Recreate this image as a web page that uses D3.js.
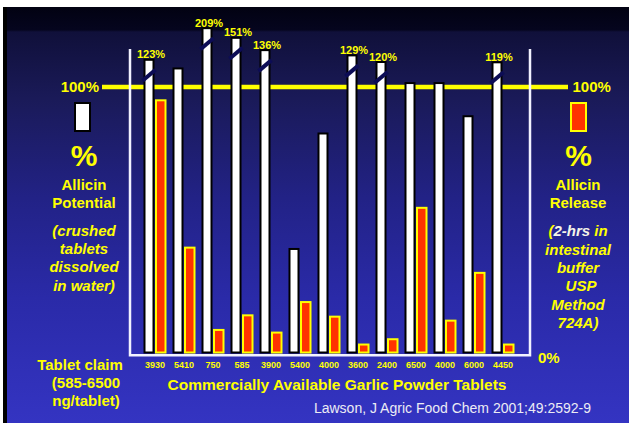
<!DOCTYPE html>
<html><head><meta charset="utf-8">
<script src="https://cdn.jsdelivr.net/npm/d3@7"></script>
<style>html,body{margin:0;padding:0;background:#fff;overflow:hidden}svg{display:block}</style>
</head><body>
<script>
// ---- data ----
const claims = ["3930","5410","750","585","3900","5400","4000","3600","2400","6500","4000","6000","4450"];
const potential = [123, 107, 209, 151, 136, 39, 82.5, 129, 120, 101.5, 101.5, 89, 119];
const release = [95, 39.5, 8.5, 14, 7.5, 19, 13.5, 3, 5, 54.5, 12, 30, 3];
const breakThreshold = 115;
const leftLines = ["Allicin", "Potential"];
const leftNote = ["(crushed", "tablets", "dissolved", "in water)"];
const rightLines = ["Allicin", "Release"];
const rightNote = ["intestinal", "buffer", "USP", "Method", "724A)"];
const claimLines = ["(585-6500", "ng/tablet)"];

const W = 629, H = 423;
const YEL = "#ffff00", RED = "#ff3300", FONT = "Arial, 'Liberation Sans', sans-serif";

const svg = d3.select("body").append("svg").attr("width", W).attr("height", H)
  .style("font-family", FONT);

// background
const defs = svg.append("defs");
const g = defs.append("linearGradient").attr("id", "bg").attr("x1", 0).attr("y1", 0).attr("x2", 0).attr("y2", 1);
[[0, "#020212"], [0.055, "#05051e"], [0.06, "#10103a"], [0.22, "#1a1a58"], [0.46, "#222286"], [0.7, "#2a2aa8"], [1, "#3434c2"]]
  .forEach(([o, c]) => g.append("stop").attr("offset", o).attr("stop-color", c));
svg.append("rect").attr("x", 3).attr("y", 7).attr("width", W - 3).attr("height", H - 7).attr("fill", "url(#bg)");
svg.append("rect").attr("x", 3).attr("y", 7).attr("width", 4).attr("height", H - 7).attr("fill", "#000");

// scales
const x = d3.scaleBand().domain(d3.range(claims.length)).range([140.5, 517.5]);
const y = d3.scaleLinear().domain([0, 108, 120, 135, 150, 210]).range([352.5, 65.8, 62, 51, 38, 28]);
const cx = i => x(i) + x.bandwidth() / 2;

// 100% reference line
svg.append("line").attr("x1", 102).attr("x2", 568).attr("y1", y(100)).attr("y2", y(100))
  .attr("stroke", YEL).attr("stroke-width", 4.5);

// frame
const frame = d3.path();
frame.moveTo(130, 49); frame.lineTo(130, 355.3); frame.lineTo(530, 355.3); frame.lineTo(530, 49);
svg.append("path").attr("d", frame.toString()).attr("fill", "none").attr("stroke", "#f2f2ff").attr("stroke-width", 2.5);

// white bars (allicin potential)
svg.append("g").selectAll("rect").data(potential).join("rect")
  .attr("x", (d, i) => cx(i) - 10.5).attr("width", 9)
  .attr("y", d => y(d)).attr("height", d => y(0) - y(d))
  .attr("fill", "#fff").attr("stroke", "#000").attr("stroke-width", 2);

// red bars (allicin release)
svg.append("g").selectAll("rect").data(release).join("rect")
  .attr("x", (d, i) => cx(i) + 1).attr("width", 9.5)
  .attr("y", d => y(d)).attr("height", d => y(0) - y(d))
  .attr("fill", RED).attr("stroke", YEL).attr("stroke-width", 2);

// break marks and labels for truncated bars
const broken = potential.map((v, i) => ({v, i})).filter(d => d.v > breakThreshold);
svg.append("g").selectAll("line").data(broken).join("line")
  .attr("x1", d => cx(d.i) - 6 - 6.5).attr("x2", d => cx(d.i) - 6 + 6.5)
  .attr("y1", d => y(d.v) - 1 + 22).attr("y2", d => y(d.v) - 1 + 11)
  .attr("stroke", "#0c0c55").attr("stroke-width", 4);
svg.append("g").selectAll("text").data(broken).join("text")
  .attr("x", d => cx(d.i) - 4).attr("y", d => y(d.v) - 1.5)
  .attr("text-anchor", "middle").attr("fill", YEL).attr("font-weight", "bold").attr("font-size", 11)
  .text(d => d.v + "%");

// x axis tick labels
const ax = svg.append("g").attr("transform", "translate(0,358)")
  .call(d3.axisBottom(x).tickSize(0).tickFormat(i => claims[i]));
ax.select(".domain").remove();
ax.selectAll("text").attr("fill", YEL).attr("font-weight", "bold").attr("font-size", 9)
  .attr("font-family", FONT).attr("dy", 0).attr("y", 10);

// helper for text
function txt(t, xx, yy, size, opts = {}) {
  return svg.append("text").attr("x", xx).attr("y", yy).attr("font-size", size)
    .attr("font-weight", "bold").attr("fill", opts.fill || YEL)
    .attr("text-anchor", opts.anchor || "middle")
    .attr("font-style", opts.italic ? "italic" : "normal").text(t);
}

// left side
txt("100%", 99, 92, 15, {anchor: "end"});
svg.append("rect").attr("x", 75).attr("y", 103).attr("width", 15).attr("height", 28)
  .attr("fill", "#fff").attr("stroke", "#000").attr("stroke-width", 2);
txt("%", 84, 166, 30);
leftLines.forEach((t, k) => txt(t, 84, 190 + k * 17.7, 15));
leftNote.forEach((t, k) => txt(t, 84, 236 + k * 18.2, 15, {italic: true}));
txt("Tablet claim", 80, 370, 15);
claimLines.forEach((t, k) => txt(t, 86, 388 + k * 18, 15));

// right side
txt("100%", 572.5, 92, 15, {anchor: "start"});
svg.append("rect").attr("x", 571).attr("y", 103).attr("width", 15).attr("height", 28)
  .attr("fill", RED).attr("stroke", YEL).attr("stroke-width", 2);
txt("%", 578.5, 166, 30);
rightLines.forEach((t, k) => txt(t, 578, 190 + k * 17.7, 15));
const r0 = txt("", 578, 236, 15, {italic: true});
r0.append("tspan").text("(");
r0.append("tspan").attr("fill", "#f4f4e8").text("2-hrs");
r0.append("tspan").text(" in");
rightNote.forEach((t, k) => txt(t, t === "USP" ? 581 : 578, 254.5 + k * 18.4, 15, {italic: true}));
txt("0%", 538, 363, 15, {anchor: "start"});

// axis title and citation
txt("Commercially Available Garlic Powder Tablets", 337, 390, 15.5);
svg.append("text").attr("x", 591).attr("y", 413).attr("text-anchor", "end")
  .attr("font-size", 14).attr("fill", "#ececf4").text("Lawson, J Agric Food Chem 2001;49:2592-9");
</script>
</body></html>
